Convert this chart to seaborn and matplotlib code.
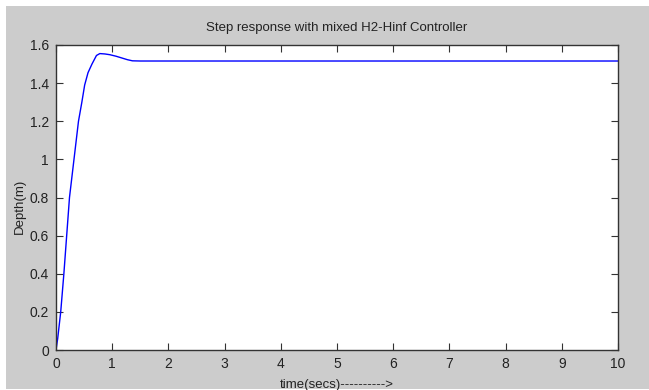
import matplotlib
matplotlib.use("Agg")
import matplotlib.pyplot as plt
import seaborn as sns
import pandas as pd
from matplotlib.patches import Rectangle

# Step response samples (time in seconds, depth in metres)
time_s = [0.0, 0.03, 0.084, 0.14, 0.19, 0.24, 0.32, 0.40, 0.46, 0.51, 0.57,
          0.64, 0.72, 0.78, 0.87, 0.96, 1.07, 1.17, 1.27, 1.36, 1.50, 2.0,
          4.0, 6.0, 8.0, 10.0]
depth_m = [0.0, 0.06, 0.20, 0.40, 0.60, 0.80, 1.00, 1.20, 1.30, 1.39, 1.455,
           1.50, 1.545, 1.555, 1.553, 1.549, 1.541, 1.532, 1.523, 1.517,
           1.516, 1.516, 1.516, 1.516, 1.516, 1.516]

x_ticks = [0, 1, 2, 3, 4, 5, 6, 7, 8, 9, 10]
y_ticks = [0, 0.2, 0.4, 0.6, 0.8, 1.0, 1.2, 1.4, 1.6]
y_tick_labels = ["0", "0.2", "0.4", "0.6", "0.8", "1", "1.2", "1.4", "1.6"]

sns.set_style("white")
plt.rcParams["font.family"] = ["Liberation Sans", "DejaVu Sans"]

df = pd.DataFrame({"t": time_s, "y": depth_m})

W, H = 649, 390
fig = plt.figure(figsize=(W / 100, H / 100), dpi=100, facecolor="white")
# gray window background with a thin white margin at top and left
fig.patches.append(Rectangle((6 / W, 1 / H), 1, (H - 7) / H,
                             transform=fig.transFigure, facecolor="#cccccc",
                             edgecolor="none", zorder=-10))

ax = fig.add_axes([56 / W, (H - 350) / H, 562 / W, 305 / H])
sns.lineplot(data=df, x="t", y="y", ax=ax, color="#0000ff", linewidth=1.0)

ax.set_xlim(0, 10)
ax.set_ylim(0, 1.6)
ax.set_xticks(x_ticks)
ax.set_xticklabels([str(v) for v in x_ticks])
ax.set_yticks(y_ticks)
ax.set_yticklabels(y_tick_labels)
ax.tick_params(direction="in", length=5, width=0.8, color="#333333",
               labelsize=10, labelcolor="#222222", top=True, right=True,
               bottom=True, left=True, pad=5)
for sp in ax.spines.values():
    sp.set_color("#333333")
    sp.set_linewidth(1.0)
    sp.set_visible(True)
ax.set_facecolor("white")

ax.set_title("Step response with mixed H2-Hinf Controller", fontsize=9.5,
             color="#222222", pad=10)
ax.set_xlabel("time(secs)---------->", fontsize=9.5, color="#222222")
ax.set_ylabel("Depth(m)", fontsize=9.5, color="#222222")
ax.xaxis.set_label_coords(0.5, -0.095)
ax.yaxis.set_label_coords(-0.053, 0.47)

fig.savefig("out.png", dpi=100, facecolor="white")
